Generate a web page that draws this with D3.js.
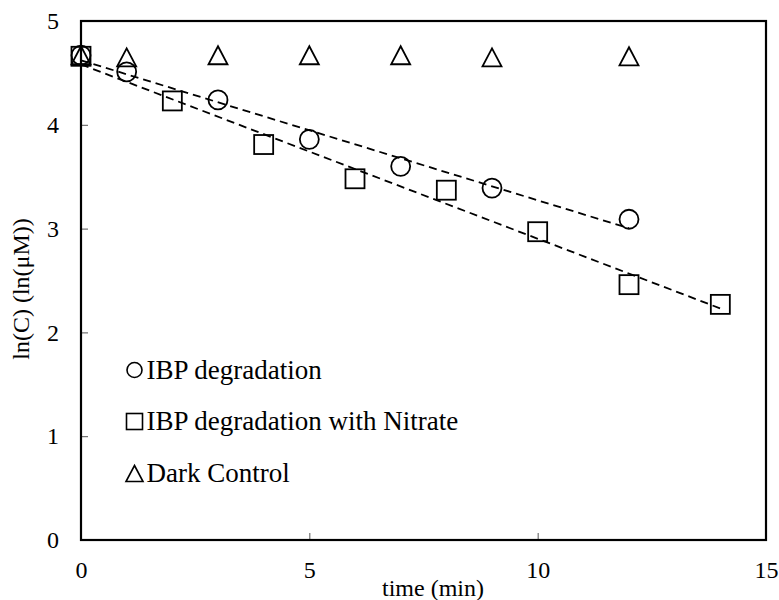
<!DOCTYPE html>
<html><head><meta charset="utf-8">
<script src="https://cdn.jsdelivr.net/npm/d3@7"></script>
<style>body{margin:0;background:#fff}svg{display:block}text{font-family:"Liberation Serif","Times New Roman",serif;fill:#000}</style>
</head><body><svg id="c" width="779" height="600"></svg>
<script>
const xTicks = [0, 5, 10, 15];
const yTicks = [0, 1, 2, 3, 4, 5];
const seriesNames = ["IBP degradation", "IBP degradation with Nitrate", "Dark Control"];
const tIBP = [0, 1, 3, 5, 7, 9, 12];
const vIBP = [4.67, 4.51, 4.24, 3.86, 3.60, 3.39, 3.09];
const tNit = [0, 2, 4, 6, 8, 10, 12, 14];
const vNit = [4.66, 4.23, 3.81, 3.48, 3.37, 2.97, 2.46, 2.27];
const tDark = [0, 1, 3, 5, 7, 9, 12];
const vDark = [4.67, 4.65, 4.67, 4.67, 4.67, 4.65, 4.66];

const svg = d3.select("#c");
const L = 81, R = 766, T = 21, B = 540;
const x = d3.scaleLinear().domain([0, 15]).range([L, R]);
const y = d3.scaleLinear().domain([0, 5]).range([B, T]);

// axes
const gy = svg.append("g").attr("transform", `translate(${L},0)`)
  .call(d3.axisLeft(y).tickValues(yTicks).tickSize(-7).tickPadding(22).tickFormat(d3.format("d")));
const gx = svg.append("g").attr("transform", `translate(0,${B})`)
  .call(d3.axisBottom(x).tickValues(xTicks).tickSize(-7).tickPadding(21).tickFormat(d3.format("d")));
[gy, gx].forEach(g => {
  g.select(".domain").remove();
  g.selectAll(".tick line").attr("stroke", "#555").attr("stroke-width", 1);
  g.selectAll(".tick text").attr("font-size", 24).attr("fill", "#000");
});

// frame
svg.append("rect").attr("x", L).attr("y", T).attr("width", R - L).attr("height", B - T)
  .attr("fill", "none").attr("stroke", "#000").attr("stroke-width", 2.2);

// trendlines (least squares fit of data)
function fit(ts, vs) {
  const n = ts.length, mt = d3.mean(ts), mv = d3.mean(vs);
  let sxy = 0, sxx = 0;
  for (let i = 0; i < n; i++) { sxy += (ts[i] - mt) * (vs[i] - mv); sxx += (ts[i] - mt) ** 2; }
  const b = sxy / sxx, a = mv - b * mt;
  const t0 = d3.min(ts), t1 = d3.max(ts);
  return [[t0, a + b * t0], [t1, a + b * t1]];
}
const line = d3.line().x(d => x(d[0])).y(d => y(d[1]));
[[tIBP, vIBP], [tNit, vNit]].forEach(([ts, vs]) => {
  svg.append("path").attr("d", line(fit(ts, vs))).attr("fill", "none")
    .attr("stroke", "#000").attr("stroke-width", 1.8).attr("stroke-dasharray", "8,5");
});

// markers
const mk = { fill: "none", stroke: "#000", sw: 1.8 };
svg.append("g").selectAll("circle").data(d3.zip(tIBP, vIBP)).join("circle")
  .attr("cx", d => x(d[0])).attr("cy", d => y(d[1])).attr("r", 9.5)
  .attr("fill", mk.fill).attr("stroke", mk.stroke).attr("stroke-width", mk.sw);
svg.append("g").selectAll("rect").data(d3.zip(tNit, vNit)).join("rect")
  .attr("x", d => x(d[0]) - 9.5).attr("y", d => y(d[1]) - 9.5).attr("width", 19).attr("height", 19)
  .attr("fill", mk.fill).attr("stroke", mk.stroke).attr("stroke-width", mk.sw);
const tri = (cx, cy, w, h) => `M${cx},${cy - h / 2}L${cx + w / 2},${cy + h / 2}L${cx - w / 2},${cy + h / 2}Z`;
svg.append("g").selectAll("path").data(d3.zip(tDark, vDark)).join("path")
  .attr("d", d => tri(x(d[0]), y(d[1]), 19, 18))
  .attr("fill", mk.fill).attr("stroke", mk.stroke).attr("stroke-width", mk.sw);

// legend
const lg = svg.append("g");
const ly = [370, 421.5, 473.5];
lg.append("circle").attr("cx", 134.5).attr("cy", ly[0]).attr("r", 7.5)
  .attr("fill", "none").attr("stroke", "#000").attr("stroke-width", 1.6);
lg.append("rect").attr("x", 126.5).attr("y", ly[1] - 8).attr("width", 16).attr("height", 16)
  .attr("fill", "none").attr("stroke", "#000").attr("stroke-width", 1.6);
lg.append("path").attr("d", tri(134.5, ly[2], 17, 16))
  .attr("fill", "none").attr("stroke", "#000").attr("stroke-width", 1.6);
lg.selectAll("text").data(seriesNames).join("text")
  .attr("x", 146.5).attr("y", (d, i) => ly[i] + 8.5).attr("font-size", 27).text(d => d);

// axis titles
svg.append("text").attr("x", 433).attr("y", 596).attr("text-anchor", "middle")
  .attr("font-size", 24).text("time (min)");
svg.append("text").attr("transform", "translate(28.5,289) rotate(-90)").attr("text-anchor", "middle")
  .attr("font-size", 24).text("ln(C) (ln(μM))");
</script></body></html>
